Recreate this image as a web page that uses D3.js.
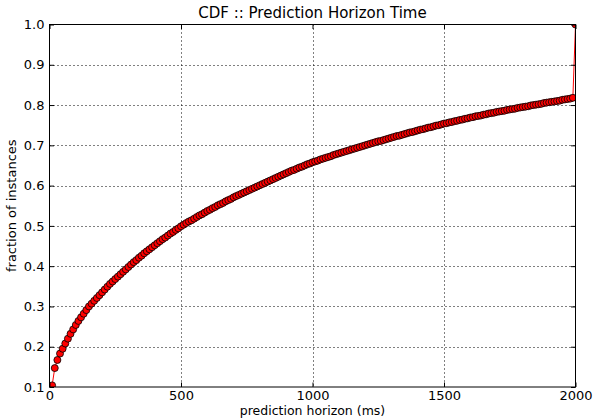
<!DOCTYPE html>
<html><head><meta charset="utf-8">
<script src="https://cdn.jsdelivr.net/npm/d3@7"></script>
<style>body{margin:0;background:#fff}svg{display:block}text{font-family:"DejaVu Sans",sans-serif;fill:#000}</style>
</head><body><svg id="c" width="596" height="418"></svg>
<script>
const title = "CDF :: Prediction Horizon Time";
const xLabel = "prediction horizon (ms)";
const yLabel = "fraction of instances";
const xTicks = [0, 500, 1000, 1500, 2000];
const yTicks = [0.1, 0.2, 0.3, 0.4, 0.5, 0.6, 0.7, 0.8, 0.9, 1.0];
const horizonMs = [10,20,30,40,50,60,70,80,90,100,110,120,130,140,150,160,170,180,190,200,
210,220,230,240,250,260,270,280,290,300,310,320,330,340,350,360,370,380,390,400,
410,420,430,440,450,460,470,480,490,500,510,520,530,540,550,560,570,580,590,600,
610,620,630,640,650,660,670,680,690,700,710,720,730,740,750,760,770,780,790,800,
810,820,830,840,850,860,870,880,890,900,910,920,930,940,950,960,970,980,990,1000,
1010,1020,1030,1040,1050,1060,1070,1080,1090,1100,1110,1120,1130,1140,1150,1160,1170,1180,1190,1200,
1210,1220,1230,1240,1250,1260,1270,1280,1290,1300,1310,1320,1330,1340,1350,1360,1370,1380,1390,1400,
1410,1420,1430,1440,1450,1460,1470,1480,1490,1500,1510,1520,1530,1540,1550,1560,1570,1580,1590,1600,
1610,1620,1630,1640,1650,1660,1670,1680,1690,1700,1710,1720,1730,1740,1750,1760,1770,1780,1790,1800,
1810,1820,1830,1840,1850,1860,1870,1880,1890,1900,1910,1920,1930,1940,1950,1960,1970,1980,1990,2000];
const fraction = [0.104,0.147,0.167,0.183,0.195,0.208,0.220,0.232,0.243,0.254,0.264,0.273,0.282,0.291,0.300,0.307,0.314,0.321,0.328,0.335,
0.342,0.349,0.356,0.362,0.368,0.374,0.380,0.386,0.392,0.398,0.404,0.410,0.415,0.421,0.426,0.432,0.437,0.442,0.447,0.452,
0.457,0.462,0.467,0.471,0.476,0.481,0.485,0.490,0.494,0.499,0.503,0.507,0.511,0.514,0.518,0.522,0.526,0.529,0.533,0.537,
0.540,0.544,0.547,0.551,0.554,0.557,0.561,0.564,0.567,0.571,0.574,0.577,0.580,0.583,0.586,0.589,0.592,0.595,0.598,0.601,
0.604,0.607,0.610,0.613,0.616,0.619,0.622,0.625,0.628,0.631,0.634,0.637,0.639,0.642,0.645,0.647,0.650,0.653,0.655,0.658,
0.660,0.662,0.665,0.667,0.669,0.671,0.673,0.676,0.678,0.680,0.682,0.684,0.686,0.688,0.690,0.692,0.694,0.696,0.698,0.700,
0.702,0.704,0.706,0.708,0.710,0.711,0.713,0.715,0.717,0.719,0.721,0.723,0.724,0.726,0.728,0.730,0.732,0.733,0.735,0.737,
0.739,0.740,0.742,0.744,0.745,0.747,0.749,0.750,0.752,0.754,0.755,0.757,0.758,0.760,0.761,0.763,0.764,0.766,0.767,0.769,
0.770,0.772,0.773,0.774,0.776,0.777,0.779,0.780,0.781,0.783,0.784,0.785,0.786,0.788,0.789,0.790,0.791,0.793,0.794,0.795,
0.796,0.797,0.799,0.800,0.801,0.802,0.803,0.805,0.806,0.807,0.808,0.809,0.810,0.811,0.813,0.814,0.815,0.816,0.818,1.000];

const L = 49.5, R = 575.5, T = 24.5, B = 387;
const svg = d3.select("#c");
const x = d3.scaleLinear().domain([0, 2000]).range([L, R]);
const y = d3.scaleLinear().domain([0.1, 1.0]).range([B, T]);
const data = horizonMs.map((t, i) => ({t, v: fraction[i]}));

svg.append("defs").append("clipPath").attr("id", "clip")
  .append("rect").attr("x", L).attr("y", T).attr("width", R - L).attr("height", B - T);

// grid
const grid = svg.append("g").attr("stroke", "#000").attr("stroke-width", 1)
  .attr("stroke-dasharray", "1,3");
grid.selectAll("line.gx").data(xTicks.slice(1, -1)).join("line")
  .attr("x1", d => Math.round(x(d)) + 0.5).attr("x2", d => Math.round(x(d)) + 0.5)
  .attr("y1", T).attr("y2", B);
grid.selectAll("line.gy").data(yTicks.slice(1, -1)).join("line")
  .attr("y1", d => Math.round(y(d)) + 0.5).attr("y2", d => Math.round(y(d)) + 0.5)
  .attr("x1", L).attr("x2", R);

// data
const plot = svg.append("g").attr("clip-path", "url(#clip)");
plot.append("path").datum(data)
  .attr("d", d3.line().x(d => x(d.t)).y(d => y(d.v)))
  .attr("fill", "none").attr("stroke", "#ff0000").attr("stroke-width", 1);
plot.selectAll("circle").data(data).join("circle")
  .attr("cx", d => x(d.t)).attr("cy", d => y(d.v)).attr("r", 3.5)
  .attr("fill", "#ff0000").attr("stroke", "#000").attr("stroke-width", 0.8);

// axes (matplotlib classic: ticks inside, on all four sides)
const tl = 4.5;
const fmtY = d3.format(".1f");
const fmtX = d3.format("d");
const xb = svg.append("g").attr("transform", `translate(0,${B})`)
  .call(d3.axisBottom(x).tickValues(xTicks).tickSize(-tl).tickPadding(4).tickFormat(fmtX));
const xt = svg.append("g").attr("transform", `translate(0,${T})`)
  .call(d3.axisTop(x).tickValues(xTicks).tickSize(-tl).tickFormat(""));
const yl = svg.append("g").attr("transform", `translate(${L},0)`)
  .call(d3.axisLeft(y).tickValues(yTicks).tickSize(-tl).tickPadding(5).tickFormat(fmtY));
const yr = svg.append("g").attr("transform", `translate(${R},0)`)
  .call(d3.axisRight(y).tickValues(yTicks).tickSize(-tl).tickFormat(""));
[xb, xt, yl, yr].forEach(g => {
  g.select(".domain").remove();
  g.selectAll(".tick line").attr("stroke", "#000").attr("stroke-width", 1);
  g.selectAll("text").attr("font-family", "DejaVu Sans").attr("font-size", 13).attr("fill", "#000");
});
svg.append("rect").attr("x", L).attr("y", T).attr("width", R - L).attr("height", B - T)
  .attr("fill", "none").attr("stroke", "#000").attr("stroke-width", 1);

svg.append("text").attr("x", (L + R) / 2).attr("y", 18).attr("text-anchor", "middle")
  .attr("font-size", 15).text(title);
svg.append("text").attr("x", (L + R) / 2).attr("y", 415).attr("text-anchor", "middle")
  .attr("font-size", 12.5).text(xLabel);
svg.append("text").attr("transform", `translate(16,${(T + B) / 2}) rotate(-90)`)
  .attr("text-anchor", "middle").attr("font-size", 13).text(yLabel);
</script></body></html>
